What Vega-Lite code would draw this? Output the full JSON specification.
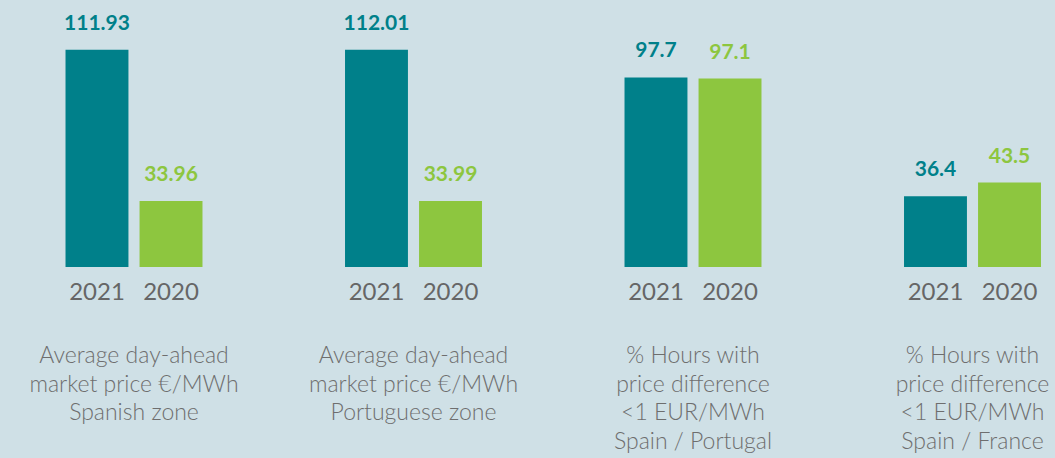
{
  "$schema": "https://vega.github.io/schema/vega-lite/v6.json",
  "background": "#cfe0e6",
  "padding": {"left": 0, "top": 0, "right": 0, "bottom": 20},
  "config": {"view": {"stroke": null}, "font": "Lato"},
  "data": {"values": [
    {"metric": "Average day-ahead|market price €/MWh|Spanish zone", "year": "2021", "value": 111.93},
    {"metric": "Average day-ahead|market price €/MWh|Spanish zone", "year": "2020", "value": 33.96},
    {"metric": "Average day-ahead|market price €/MWh|Portuguese zone", "year": "2021", "value": 112.01},
    {"metric": "Average day-ahead|market price €/MWh|Portuguese zone", "year": "2020", "value": 33.99},
    {"metric": "% Hours with|price difference|<1 EUR/MWh|Spain / Portugal", "year": "2021", "value": 97.7},
    {"metric": "% Hours with|price difference|<1 EUR/MWh|Spain / Portugal", "year": "2020", "value": 97.1},
    {"metric": "% Hours with|price difference|<1 EUR/MWh|Spain / France", "year": "2021", "value": 36.4},
    {"metric": "% Hours with|price difference|<1 EUR/MWh|Spain / France", "year": "2020", "value": 43.5}
  ]},
  "spacing": 11.5,
  "facet": {
    "column": {
      "field": "metric", "type": "nominal",
      "sort": ["Average day-ahead|market price €/MWh|Spanish zone", "Average day-ahead|market price €/MWh|Portuguese zone", "% Hours with|price difference|<1 EUR/MWh|Spain / Portugal", "% Hours with|price difference|<1 EUR/MWh|Spain / France"],
      "header": {
        "title": null,
        "labelOrient": "bottom",
        "labelExpr": "split(datum.value, '|')",
        "labelFont": "Lato",
        "labelFontWeight": 300,
        "labelFontSize": 23,
        "labelLineHeight": 28.5,
        "labelColor": "#6e6e6e",
        "labelBaseline": "top",
        "labelPadding": 41
      }
    }
  },
  "spec": {
    "width": 268,
    "height": 267,
    "encoding": {
      "x": {"field": "year", "type": "nominal", "sort": ["2021", "2020"],
        "scale": {"paddingInner": 0.15, "paddingOuter": 0.885},
        "axis": {"title": null, "ticks": false, "domain": false, "labelAngle": 0, "labelFont": "Lato", "labelFontSize": 24, "labelColor": "#666666", "labelPadding": 13, "labelBaseline": "top"}},
      "y": {"field": "value", "type": "quantitative", "scale": {"domain": [0, 137.6], "nice": false, "zero": true}, "axis": null},
      "color": {"field": "year", "type": "nominal", "scale": {"domain": ["2021", "2020"], "range": ["#00808a", "#8dc63f"]}, "legend": null}
    },
    "layer": [
      {"mark": {"type": "bar", "cornerRadius": 0}},
      {"mark": {"type": "text", "baseline": "alphabetic", "dy": -20, "font": "Lato", "fontWeight": "bold", "fontSize": 21, "letterSpacing": -0.5},
        "encoding": {"text": {"field": "value", "type": "quantitative", "format": ".2~f"}}}
    ]
  }
}
